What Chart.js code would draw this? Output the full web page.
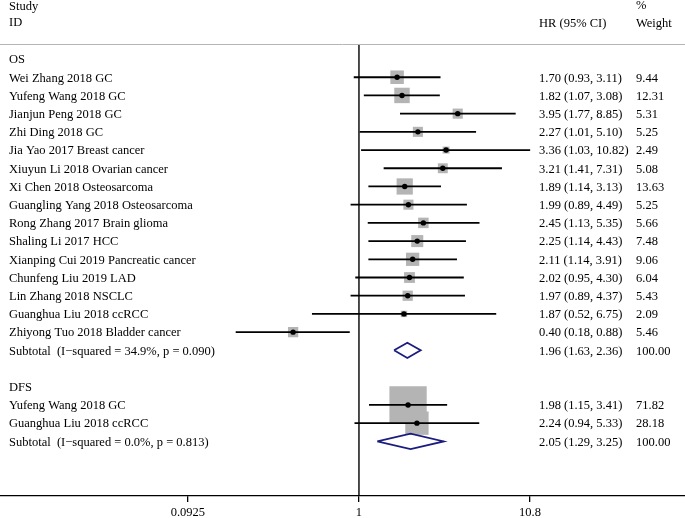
<!DOCTYPE html>
<html>
<head>
<meta charset="utf-8">
<script src="https://cdn.jsdelivr.net/npm/chart.js@4"></script>
<style>
  html, body { margin: 0; padding: 0; background: #fff; }
</style>
</head>
<body>
<canvas id="forest" width="685" height="518"></canvas>
<script>
// OS subgroup
const osStudies = [
  "Wei Zhang 2018 GC", "Yufeng Wang 2018 GC", "Jianjun Peng 2018 GC", "Zhi Ding 2018 GC",
  "Jia Yao 2017 Breast cancer", "Xiuyun Li 2018 Ovarian cancer", "Xi Chen 2018 Osteosarcoma",
  "Guangling Yang 2018 Osteosarcoma", "Rong Zhang 2017 Brain glioma", "Shaling Li 2017 HCC",
  "Xianping Cui 2019 Pancreatic cancer", "Chunfeng Liu 2019 LAD", "Lin Zhang 2018 NSCLC",
  "Guanghua Liu 2018 ccRCC", "Zhiyong Tuo 2018 Bladder cancer"
];
const osHR     = [1.70, 1.82, 3.95, 2.27, 3.36, 3.21, 1.89, 1.99, 2.45, 2.25, 2.11, 2.02, 1.97, 1.87, 0.40];
const osLower  = [0.93, 1.07, 1.77, 1.01, 1.03, 1.41, 1.14, 0.89, 1.13, 1.14, 1.14, 0.95, 0.89, 0.52, 0.18];
const osUpper  = [3.11, 3.08, 8.85, 5.10, 10.82, 7.31, 3.13, 4.49, 5.35, 4.43, 3.91, 4.30, 4.37, 6.75, 0.88];
const osWeight = [9.44, 12.31, 5.31, 5.25, 2.49, 5.08, 13.63, 5.25, 5.66, 7.48, 9.06, 6.04, 5.43, 2.09, 5.46];
const osPooled = [1.96, 1.63, 2.36];
const osSubtotalLabel = "Subtotal  (I\u2212squared = 34.9%, p = 0.090)";

// DFS subgroup
const dfsStudies = ["Yufeng Wang 2018 GC", "Guanghua Liu 2018 ccRCC"];
const dfsHR      = [1.98, 2.24];
const dfsLower   = [1.15, 0.94];
const dfsUpper   = [3.41, 5.33];
const dfsWeight  = [71.82, 28.18];
const dfsPooled  = [2.05, 1.29, 3.25];
const dfsSubtotalLabel = "Subtotal  (I\u2212squared = 0.0%, p = 0.813)";

const xTicks = [0.0925, 1, 10.8];

// row layout: 0 = "OS", studies, subtotal, blank, "DFS", studies, subtotal
const osHeadRow = 0;
const osRows = osStudies.map((s, i) => i + 1);
const osSubRow = osStudies.length + 1;
const dfsHeadRow = osSubRow + 2;
const dfsRows = dfsStudies.map((s, i) => dfsHeadRow + 1 + i);
const dfsSubRow = dfsHeadRow + dfsStudies.length + 1;

const FONT = '12.5px "Liberation Serif", "Times New Roman", serif';
const boxScale = 4.4;

function fmt(e, l, h) {
  return e.toFixed(2) + " (" + l.toFixed(2) + ", " + h.toFixed(2) + ")";
}

// squares (weights)
const boxPoints = [];
const boxSides = [];
osHR.forEach((v, i) => { boxPoints.push({ x: v, y: osRows[i] }); boxSides.push(boxScale * Math.sqrt(osWeight[i])); });
dfsHR.forEach((v, i) => { boxPoints.push({ x: v, y: dfsRows[i] }); boxSides.push(boxScale * Math.sqrt(dfsWeight[i])); });

// CI lines
const ciSets = [];
osHR.forEach((v, i) => ciSets.push([{ x: osLower[i], y: osRows[i] }, { x: osUpper[i], y: osRows[i] }]));
dfsHR.forEach((v, i) => ciSets.push([{ x: dfsLower[i], y: dfsRows[i] }, { x: dfsUpper[i], y: dfsRows[i] }]));

function diamond(p, row) {
  const h = 0.42;
  return [
    { x: p[1], y: row }, { x: p[0], y: row - h }, { x: p[2], y: row },
    { x: p[0], y: row + h }, { x: p[1], y: row }
  ];
}

const yTop = -0.77, yBottom = 24;

const datasets = [];
datasets.push({
  data: boxPoints,
  pointStyle: 'rect',
  pointRadius: ctx => (boxSides[ctx.dataIndex] || 0) / (2 * Math.SQRT1_2),
  backgroundColor: '#b4b4b4',
  borderWidth: 0,
  order: 5
});
datasets.push({
  data: [{ x: 1, y: yTop }, { x: 1, y: yBottom }],
  showLine: true, borderColor: '#000', borderWidth: 1.4, pointRadius: 0, order: 4
});
ciSets.forEach(d => datasets.push({
  data: d, showLine: true, borderColor: '#000', borderWidth: 1.8, pointRadius: 0, order: 3
}));
datasets.push({
  data: osHR.map((v, i) => ({ x: v, y: osRows[i] })).concat(dfsHR.map((v, i) => ({ x: v, y: dfsRows[i] }))),
  pointStyle: 'circle', pointRadius: 2.7, backgroundColor: '#000', borderWidth: 0, order: 1
});
datasets.push({
  data: diamond(osPooled, osSubRow), showLine: true, borderColor: '#1c1c80', borderWidth: 1.8, pointRadius: 0, order: 1
});
datasets.push({
  data: diamond(dfsPooled, dfsSubRow), showLine: true, borderColor: '#1c1c80', borderWidth: 1.8, pointRadius: 0, order: 1
});

const tablePlugin = {
  id: 'tableText',
  afterDraw(chart) {
    const ctx = chart.ctx;
    const y = chart.scales.y;
    ctx.save();
    ctx.font = FONT;
    ctx.fillStyle = '#000';
    ctx.textBaseline = 'middle';
    ctx.textAlign = 'left';
    const colLabel = 9, colHR = 539, colW = 636;
    const py = r => y.getPixelForValue(r) + 1;

    // header
    ctx.fillText("Study", colLabel, py(-2.95));
    ctx.fillText("ID", colLabel, py(-2.05));
    ctx.fillText("%", colW, py(-3.0));
    ctx.fillText("HR (95% CI)", colHR, py(-2.0));
    ctx.fillText("Weight", colW, py(-2.0));

    ctx.fillText("OS", colLabel, py(osHeadRow));
    osStudies.forEach((s, i) => {
      ctx.fillText(s, colLabel, py(osRows[i]));
      ctx.fillText(fmt(osHR[i], osLower[i], osUpper[i]), colHR, py(osRows[i]));
      ctx.fillText(osWeight[i].toFixed(2), colW, py(osRows[i]));
    });
    ctx.fillText(osSubtotalLabel, colLabel, py(osSubRow));
    ctx.fillText(fmt(osPooled[0], osPooled[1], osPooled[2]), colHR, py(osSubRow));
    ctx.fillText("100.00", colW, py(osSubRow));

    ctx.fillText("DFS", colLabel, py(dfsHeadRow));
    dfsStudies.forEach((s, i) => {
      ctx.fillText(s, colLabel, py(dfsRows[i]));
      ctx.fillText(fmt(dfsHR[i], dfsLower[i], dfsUpper[i]), colHR, py(dfsRows[i]));
      ctx.fillText(dfsWeight[i].toFixed(2), colW, py(dfsRows[i]));
    });
    ctx.fillText(dfsSubtotalLabel, colLabel, py(dfsSubRow));
    ctx.fillText(fmt(dfsPooled[0], dfsPooled[1], dfsPooled[2]), colHR, py(dfsSubRow));
    ctx.fillText("100.00", colW, py(dfsSubRow));

    // header rule
    const ry = Math.round(y.getPixelForValue(-0.85)) + 0.5;
    ctx.strokeStyle = '#b5b5b5';
    ctx.lineWidth = 1;
    ctx.beginPath();
    ctx.moveTo(0, ry);
    ctx.lineTo(chart.width, ry);
    ctx.stroke();
    ctx.restore();
  }
};

new Chart(document.getElementById('forest'), {
  type: 'scatter',
  data: { datasets: datasets },
  options: {
    responsive: false,
    animation: false,
    devicePixelRatio: 1,
    layout: { autoPadding: false, padding: { top: 45, left: 0, right: 0, bottom: 0 } },
    plugins: { legend: { display: false }, tooltip: { enabled: false } },
    scales: {
      x: {
        type: 'logarithmic',
        min: 0.00678,
        max: 93.3,
        afterBuildTicks: s => { s.ticks = xTicks.map(v => ({ value: v })); },
        afterFit: s => {
          s.height = 22;
          s.paddingLeft = 0; s.paddingRight = 0;
        },
        ticks: {
          callback: v => String(v),
          color: '#000',
          font: { family: '"Liberation Serif", "Times New Roman", serif', size: 12.5 },
          padding: 3,
          maxRotation: 0,
          autoSkip: false
        },
        grid: { drawOnChartArea: false, drawTicks: true, tickLength: 6, color: '#000', lineWidth: 1.3 },
        border: { display: true, color: '#000', width: 1.3 }
      },
      y: { type: 'linear', reverse: true, min: yTop, max: yBottom, display: false }
    }
  },
  plugins: [tablePlugin]
});
</script>
</body>
</html>
